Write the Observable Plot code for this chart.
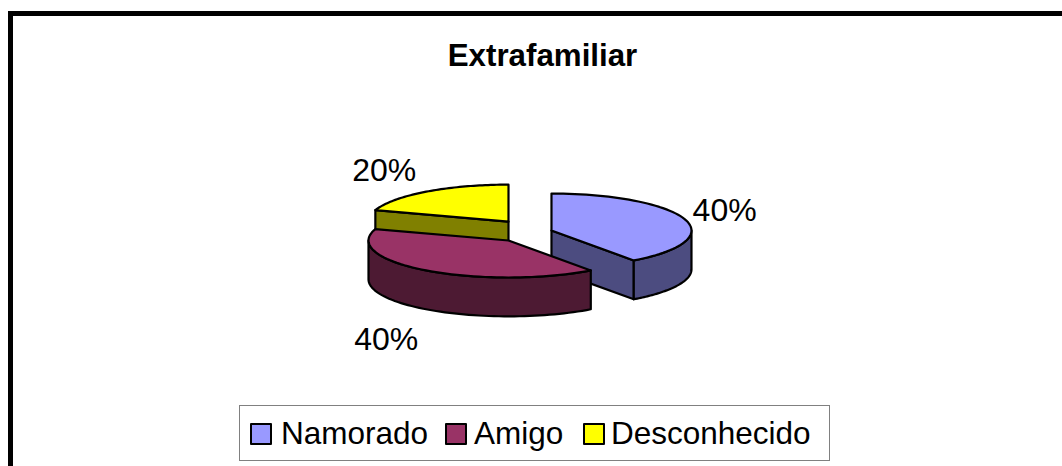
<!DOCTYPE html>
<html>
<head>
<meta charset="utf-8">
<script src="https://cdn.jsdelivr.net/npm/d3@7"></script>
<script src="https://cdn.jsdelivr.net/npm/@observablehq/plot@0.6"></script>
<style>
html,body{margin:0;padding:0;background:#fff;width:1062px;height:466px;overflow:hidden;font-family:"Liberation Sans",Arial,sans-serif;color:#000}
#wrap{position:relative;width:1062px;height:466px}
#wrap svg{position:absolute;left:0;top:0}
#frame{position:absolute;left:8px;top:11px;right:-10px;bottom:-10px;border-top:5px solid #000;border-left:5px solid #000}
#title{position:absolute;left:0;width:1085px;top:39px;text-align:center;font-weight:bold;font-size:31.3px;line-height:34px}
#legend{position:absolute;left:239px;top:405px;width:589px;height:54px;border:1px solid #808080;box-sizing:content-box;font-size:31.5px}
#legend .sw{position:absolute;top:17px;width:18px;height:18px;border:2px solid #000;border-radius:1px}
#legend .tx{position:absolute;top:9px;line-height:36px;white-space:nowrap}
</style>
</head>
<body>
<div id="wrap">
<div id="frame"></div>
<div id="title"></div>
<div id="legend"></div>
</div>
<script>
const title = "Extrafamiliar";
const categories = ["Namorado", "Amigo", "Desconhecido"];
const values = [40, 40, 20];
const colors = ["#9999FF", "#993366", "#FFFF00"];
const sideColors = ["#4C4C80", "#4D1A33", "#808000"];
const labels = ["40%", "40%", "20%"];

// Layout: the pie is drawn in unit coordinates
const explodeX = [0.307, 0, 0];
const explodeY = [0.27, 0, 0.51];
const depth = 1.05;
const labelDx = [40, -40, -42];
const labelDy = [-8, 69, -21];
const legendSwatchX = [10, 205, 343];
const legendTextX = [41, 234, 371];

const total = d3.sum(values);
const rad = a => a * Math.PI / 180;
const rim = (a0, a1, ox, oy, drop = 0) =>
  d3.range(0, 61).map(i => {
    const a = rad(a0 + (a1 - a0) * i / 60);
    return {x: ox + Math.sin(a), y: oy + Math.cos(a) - drop};
  });

let acc = 0;
const slices = values.map((v, i) => {
  const a0 = acc / total * 360;
  acc += v;
  return {i, a0, a1: acc / total * 360, ox: explodeX[i], oy: explodeY[i]};
});

const face = (pts, fill) => Plot.line([...pts, pts[0]], {
  x: "x", y: "y", fill, stroke: "#000", strokeWidth: 2.2, curve: "linear", strokeLinejoin: "round"
});

function sliceMarks(s) {
  const marks = [];
  const apex = {x: s.ox, y: s.oy};
  const apexLow = {x: s.ox, y: s.oy - depth};
  const c = sideColors[s.i];
  // radial cut face turned to the viewer
  const cutAngle = s.i === 0 ? s.a1 : s.a0;
  if (s.i !== 1) {
    const p = rim(cutAngle, cutAngle, s.ox, s.oy)[0];
    marks.push(face([apex, p, {x: p.x, y: p.y - depth}, apexLow], c));
  }
  // outer wall: the part of the rim that faces the viewer
  const wallFrom = Math.max(s.a0, 90), wallTo = Math.min(s.a1, 270);
  if (wallFrom < wallTo) {
    marks.push(face([
      ...rim(wallFrom, wallTo, s.ox, s.oy),
      ...rim(wallTo, wallFrom, s.ox, s.oy, depth)
    ], c));
  }
  // top face
  marks.push(face([apex, ...rim(s.a0, s.a1, s.ox, s.oy)], colors[s.i]));
  return marks;
}

const drawOrder = [2, 0, 1];
const labelRows = slices.map(s => {
  const mid = rad((s.a0 + s.a1) / 2);
  return {x: s.ox + Math.sin(mid), y: s.oy + Math.cos(mid), text: labels[s.i], dx: labelDx[s.i], dy: labelDy[s.i]};
});

const chart = Plot.plot({
  width: 1062,
  height: 466,
  margin: 0,
  style: {background: "transparent"},
  x: {domain: [-1, 1], range: [368, 648], axis: null},
  y: {domain: [-1, 1], range: [277, 203], axis: null},
  marks: [
    ...drawOrder.flatMap(i => sliceMarks(slices[i])),
    ...labelRows.map(d => Plot.text([d], {
      x: "x", y: "y", text: "text", dx: d.dx, dy: d.dy,
      fontSize: 32, fill: "#000", fontFamily: "Liberation Sans, Arial, sans-serif"
    }))
  ]
});
document.getElementById("wrap").appendChild(chart);
document.getElementById("title").textContent = title;
const legend = document.getElementById("legend");
categories.forEach((c, i) => {
  const sw = document.createElement("div");
  sw.className = "sw";
  sw.style.left = legendSwatchX[i] + "px";
  sw.style.background = colors[i];
  legend.appendChild(sw);
  const tx = document.createElement("div");
  tx.className = "tx";
  tx.style.left = legendTextX[i] + "px";
  tx.textContent = c;
  legend.appendChild(tx);
});
</script>
</body>
</html>
